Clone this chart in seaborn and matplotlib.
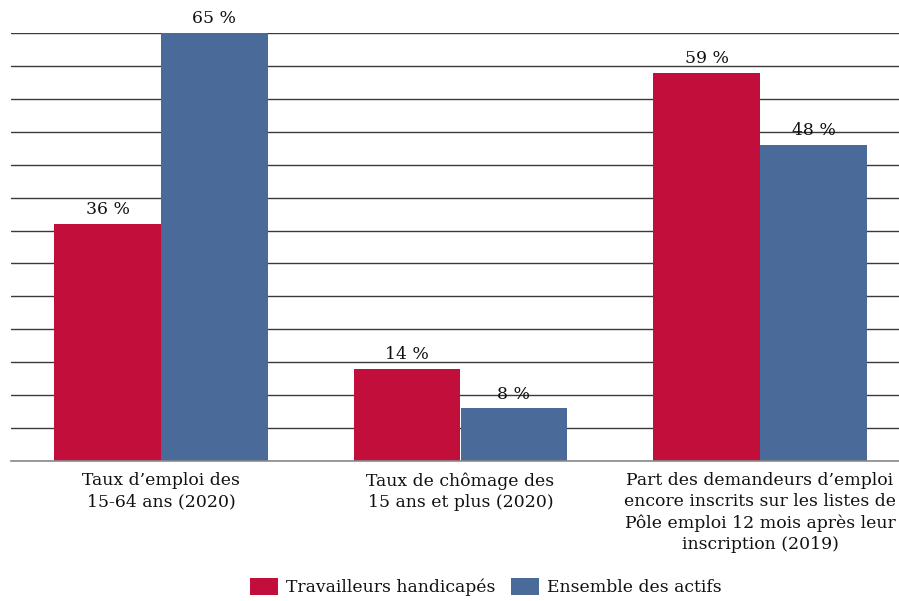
import matplotlib
matplotlib.use("Agg")
import matplotlib.pyplot as plt
import seaborn as sns
import pandas as pd

categories = ["Taux d\u2019emploi des\n15-64 ans (2020)",
              "Taux de chômage des\n15 ans et plus (2020)",
              "Part des demandeurs d\u2019emploi\nencore inscrits sur les listes de\nPôle emploi 12 mois après leur\ninscription (2019)"]
series = ["Travailleurs handicapés", "Ensemble des actifs"]
travailleurs = [36, 14, 59]
ensemble = [65, 8, 48]
colors = ["#C20E3B", "#4A6B9A"]

df = pd.DataFrame({
    "cat": categories * 2,
    "serie": [series[0]] * 3 + [series[1]] * 3,
    "val": travailleurs + ensemble,
})

sns.set_theme(style="white")
plt.rcParams['font.family'] = ['DejaVu Serif']
plt.rcParams['text.color'] = "#111111"

fig = plt.figure(figsize=(8.99, 6.01), dpi=100)
ax = fig.add_axes([11.25 / 899, 1 - 461 / 601, 898.5 / 899, 428 / 601])

sns.barplot(data=df, x="cat", y="val", hue="serie", palette=colors,
            width=0.714, saturation=1, ax=ax, legend=True, linewidth=0)

ax.set_xlim(-0.5, 2.5)
ax.set_ylim(0, 65)
ax.set_yticks(range(0, 66, 5))
ax.yaxis.grid(True, color="#3a3a3a", linewidth=1.0)
ax.set_axisbelow(True)
ax.tick_params(axis="y", left=False, labelleft=False)
ax.tick_params(axis="x", bottom=False, labelsize=12.4, pad=2, labelcolor="#111111")
for lab in ax.get_xticklabels():
    lab.set_linespacing(1.32)
for s in ["top", "right", "left"]:
    ax.spines[s].set_visible(False)
ax.spines["bottom"].set_color("#8a8a8a")
ax.spines["bottom"].set_linewidth(1.2)
ax.set_xlabel("")
ax.set_ylabel("")

for cont in ax.containers:
    ax.bar_label(cont, labels=[f"{int(v)} %" for v in cont.datavalues],
                 padding=4, fontsize=12.4, color="#111111")

leg = ax.legend(loc="center", bbox_to_anchor=(486 / 899, 1 - 587 / 601),
                bbox_transform=fig.transFigure, ncol=2, frameon=False,
                fontsize=12.4, handlelength=1.6, handleheight=1.2,
                columnspacing=0.9, handletextpad=0.5)
for t in leg.get_texts():
    t.set_color("#111111")

fig.savefig("out.png", dpi=100)
